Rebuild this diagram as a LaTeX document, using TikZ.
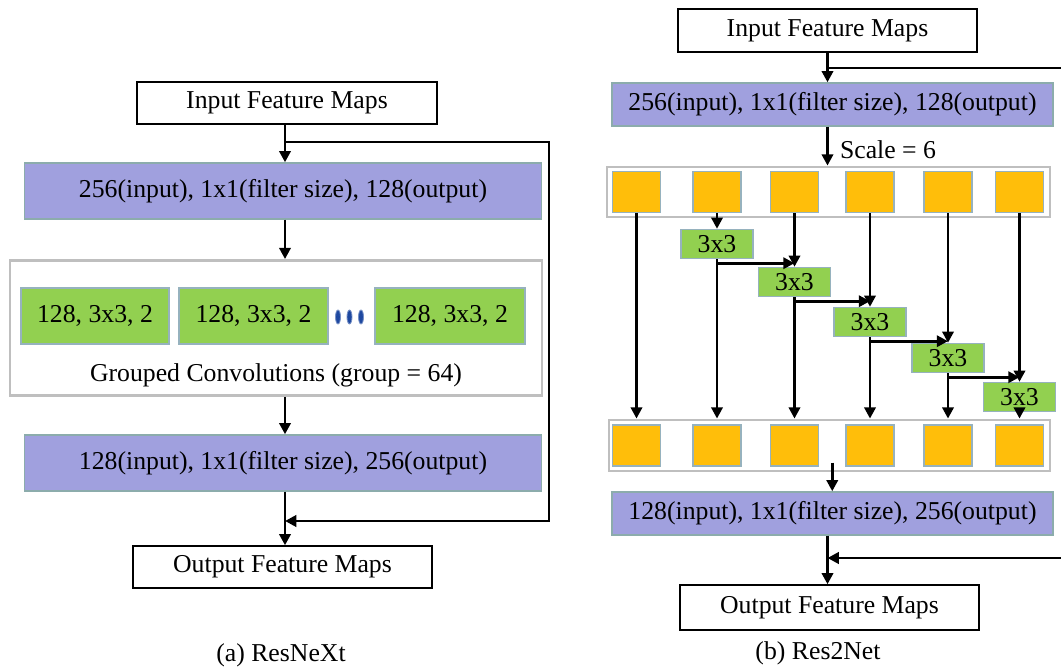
\documentclass[tikz,border=0pt]{standalone}
\usepackage{fontspec}
\setmainfont{Liberation Serif}
\usetikzlibrary{arrows.meta,calc,shapes.geometric}

\definecolor{convblue}{RGB}{160,160,222}
\definecolor{convedge}{RGB}{140,172,172}
\definecolor{grpgreen}{RGB}{146,208,80}
\definecolor{splityellow}{RGB}{255,190,10}
\definecolor{splitedge}{RGB}{150,178,190}
\definecolor{dotblue}{RGB}{30,72,160}

\begin{document}
\begin{tikzpicture}[x=0.025cm,y=-0.025cm,
  every node/.style={font=\fontsize{18.3}{22}\selectfont,inner sep=0pt},
  sz/.style 2 args={minimum width=#1*0.025cm,minimum height=#2*0.025cm},
  fmap/.style={draw=black,line width=1pt,fill=white},
  conv/.style={draw=convedge,line width=1pt,fill=convblue},
  gconv/.style={draw=splitedge,line width=1pt,fill=grpgreen},
  split/.style={draw=splitedge,line width=1pt,fill=splityellow},
  grpbox/.style={draw=black!25,line width=2pt,fill=white},
  dotn/.style={ellipse,draw=dotblue!60,line width=0.6pt,fill=dotblue,minimum width=5*0.025cm,minimum height=14*0.025cm},
  arr/.style={draw,line width=2pt,-{Triangle[length=8pt,width=8pt]}}]
\useasboundingbox (0,0) rectangle (1061,669);
\clip (0,0) rectangle (1061,669);

\node[fmap,sz={300}{42}] (inA) at (287,103) {Input Feature Maps};
\node[conv,sz={517}{56}] (bA1) at (283,191) {256(input), 1x1(filter size), 128(output)};
\node[grpbox,sz={532}{135}] (grp) at (276,328) {};
\node[gconv,sz={148}{56}] (g1) at (95,316) {128, 3x3, 2};
\node[gconv,sz={149}{56}] (g2) at (253.5,316) {128, 3x3, 2};
\node[gconv,sz={150}{56}] (g3) at (450,316) {128, 3x3, 2};
\foreach \x [count=\i] in {338,349.5,361}
  \node[dotn] (d\i) at (\x,317) {};
\node (grpl) at (276,375) {Grouped Convolutions (group = 64)};
\node[conv,sz={517}{56}] (bA2) at (283,463) {128(input), 1x1(filter size), 256(output)};
\node[fmap,sz={299}{42}] (outA) at (282.5,567) {Output Feature Maps};
\node (capA) at (281,655) {(a) ResNeXt};

\coordinate (cA) at (285,0);
\coordinate (fbA) at (549,0);
\coordinate (sA) at (285,142);
\coordinate (jA) at (285,521);
\draw[arr] (cA |- inA.south) -- (cA |- bA1.north);
\draw[arr] (cA |- bA1.south) -- (cA |- grp.north);
\draw[arr] (cA |- grp.south) -- (cA |- bA2.north);
\draw[arr] (cA |- bA2.south) -- (cA |- outA.north);
\draw[arr] (sA) -| (fbA |- jA) -- (jA);

\node[fmap,sz={299}{43}] (inB) at (827.5,30.5) {Input Feature Maps};
\node[conv,sz={441}{43}] (bB1) at (832.5,104.5) {256(input), 1x1(filter size), 128(output)};
\node (scale) at (888,150) {Scale = 6};
\node[grpbox,sz={443}{50}] (topC) at (828.5,192) {};
\node[grpbox,sz={441}{51}] (botC) at (829.5,445.5) {};
\foreach \x [count=\i] in {636.5,717,794.5,870,948,1019.5} {
  \node[split,sz={48}{41}] (t\i) at (\x,192) {};
  \node[split,sz={48}{41}] (b\i) at (\x,445.5) {};
}
\foreach \i/\y in {2/244,3/282,4/322,5/358,6/397}
  \node[gconv,sz={72}{29}] (k\i) at (t\i |- 0,\y) {3x3};
\node[conv,sz={441}{43}] (bB2) at (832.5,513.5) {128(input), 1x1(filter size), 256(output)};
\node[fmap,sz={299}{45}] (outB) at (829.5,607.5) {Output Feature Maps};
\node (capB) at (818,653) {(b) Res2Net};

\coordinate (cB) at (827.5,0);
\coordinate (fbB) at (1075,0);
\coordinate (sB) at (827.5,68);
\coordinate (jB) at (827.5,558);
\draw[arr] (cB |- inB.south) -- (cB |- bB1.north);
\draw[arr] (cB |- bB1.south) -- (cB |- topC.north);
\draw[arr] (t1.south) -- (t1.south |- botC.north);
\foreach \i in {2,...,6} {
  \draw[arr] (t\i.south) -- (k\i.north);
  \draw[arr] (k\i.south) -- (k\i.south |- botC.north);
}
\foreach \i/\j in {2/3,3/4,4/5,5/6} {
  \path (k\i.south) ++(0,4) coordinate (h\i);
  \draw[arr] (h\i) -- (h\i -| t\j.south);
}
\coordinate (gB) at ($(b3.south east)!0.5!(b4.south west)+(0,-4)$);
\draw[arr] (gB) -- (gB |- bB2.north);
\draw[arr] (cB |- bB2.south) -- (cB |- outB.north);
\draw[arr] (sB) -| (fbB |- jB) -- (jB);
\end{tikzpicture}
\end{document}
